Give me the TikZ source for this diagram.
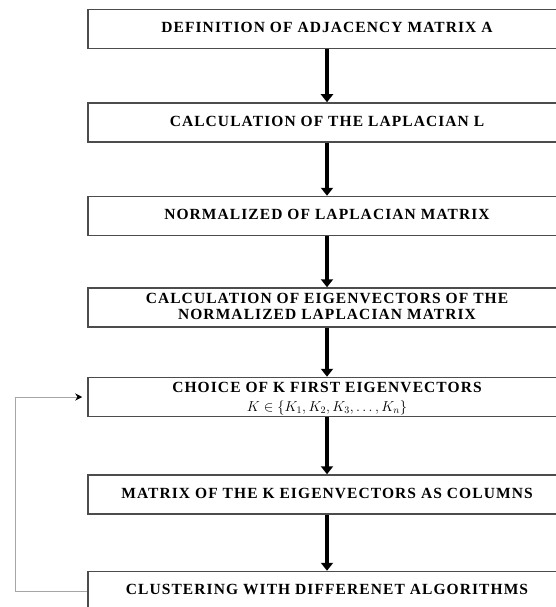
\documentclass[tikz,border=0pt]{standalone}
\usepackage{fontspec}
\setmainfont{Liberation Serif}
\usetikzlibrary{arrows.meta}

\begin{document}
\begin{tikzpicture}[x = 1pt, y = -1pt,
  box/.style = {draw = black!70, line width = 1.5pt, minimum width = 478pt, minimum height = 39pt, inner sep = 2pt, align = center, text depth = 3pt,
    font = \fontsize{15.5}{16}\selectfont\bfseries\addfontfeatures{LetterSpace=7}},
  flow/.style = {line width = 3.5pt, -{Triangle[width = 12pt, length = 8pt]}},
  back/.style = {draw = black!35, line width = 0.8pt, shorten > = 5pt, -{Stealth[black, width = 7pt, length = 7pt]}}]
\clip (0,0) rectangle (556,607);
\node[box] (adj) at (327,29) {DEFINITION OF ADJACENCY MATRIX A};
\node[box] (lap) at (327,122.5) {CALCULATION OF THE LAPLACIAN L};
\node[box] (norm) at (327,216) {NORMALIZED OF LAPLACIAN MATRIX};
\node[box] (eig) at (327,307.5) {CALCULATION OF EIGENVECTORS OF THE\\NORMALIZED LAPLACIAN MATRIX};
\node[box, inner ysep = 0pt, text depth = 1pt] (choice) at (327,397) {CHOICE OF K FIRST EIGENVECTORS\\[3pt]
  {\fontsize{14.4}{15}\selectfont\mdseries $K \in \{K_1, K_2, K_3, \ldots, K_n\}$}};
\node[box] (cols) at (327,494.5) {MATRIX OF THE K EIGENVECTORS AS COLUMNS};
\node[box] (clus) at (327,591) {CLUSTERING WITH DIFFERENET ALGORITHMS};
% main flow
\draw[flow] (adj) -- (lap);
\draw[flow] (lap) -- (norm);
\draw[flow] (norm) -- (eig);
\draw[flow] (eig) -- (choice);
\draw[flow] (choice) -- (cols);
\draw[flow] (cols) -- (clus);
% feedback loop
\draw[back] (clus.west) -- ++(-72pt,0) |- (choice.west);
\end{tikzpicture}
\end{document}
